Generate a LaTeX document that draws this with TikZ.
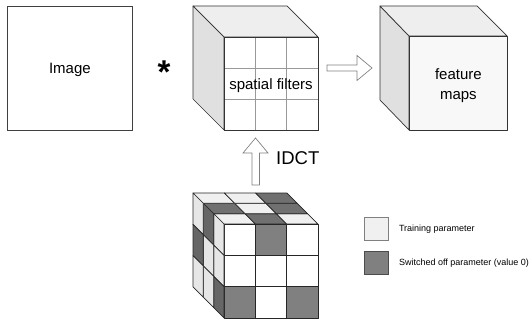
\documentclass[tikz,border=0pt]{standalone}
\usepackage{fontspec}
\setmainfont{Liberation Sans}
\definecolor{topL}{HTML}{F0F0F0}
\definecolor{topD}{HTML}{707070}
\definecolor{sideL}{HTML}{E6E6E6}
\definecolor{sideD}{HTML}{666666}
\definecolor{frontD}{HTML}{808080}
\definecolor{cubetop}{HTML}{EEEEEE}
\definecolor{cubeside}{HTML}{E0E0E0}
\definecolor{fmfront}{HTML}{F8F8F8}
\definecolor{edge}{HTML}{333333}
\begin{document}
\begin{tikzpicture}[x=1pt,y=-1pt,
  cubeline/.style={draw=edge, line width=0.7pt, line join=round},
  cell/.style={draw=black!85, line width=0.7pt, line join=round},
  hollow/.style={draw=black!50, fill=white, line width=0.7pt, line join=miter},
  lbl/.style={font=\fontsize{15}{20}\selectfont, align=center},
  legbox/.style={draw=black!50, line width=0.8pt, minimum width=24pt, minimum height=23pt, inner sep=0pt, anchor=north west},
  legtxt/.style={font=\fontsize{9}{11}\selectfont, anchor=west, inner sep=0pt}]
\useasboundingbox (0,0) rectangle (531,320);

% Image box
\node[draw=black!75, line width=0.8pt, fill=white, minimum width=125pt, minimum height=124pt, inner sep=0pt, anchor=north west] (img) at (7,6) {};
\node[lbl] (imgtxt) at ([yshift=-2pt]img.center) {Image};

% star
\node[font=\fontsize{33}{33}\selectfont\bfseries, inner sep=0pt] (star) at (164,72.5) {*};

% spatial filters cube
\filldraw[cubeline, fill=cubeside] (193,6) -- (224,37) -- (224,130) -- (193,99) -- cycle;
\filldraw[cubeline, fill=cubetop] (193,6) -- (287,6) -- (318,37) -- (224,37) -- cycle;
\node[cubeline, fill=white, minimum width=94pt, minimum height=93pt, inner sep=0pt, anchor=north west] (sf) at (224,37) {};
\draw[black!40, line width=0.6pt] (255.3,37) -- (255.3,130) (286.7,37) -- (286.7,130) (224,68) -- (318,68) (224,99) -- (318,99);
\draw[cubeline] (224,37) rectangle (318,130);
\node[lbl] (sftxt) at (271,86) {spatial filters};

% feature maps cube
\filldraw[cubeline, fill=cubeside] (380,6) -- (409,36) -- (409,130) -- (380,100) -- cycle;
\filldraw[cubeline, fill=cubetop] (380,6) -- (477,6) -- (507,36) -- (409,36) -- cycle;
\node[cubeline, fill=fmfront, minimum width=98pt, minimum height=94pt, inner sep=0pt, anchor=north west] (fm) at (409,36) {};
\node[lbl] (fmtxt) at ([yshift=-2.5pt]fm.center) {feature\\maps};

% hollow arrow right
\draw[hollow] (327,65) -- (357,65) -- (357,55.5) -- (372,68) -- (357,80.5) -- (357,71) -- (327,71) -- cycle;

% hollow arrow up
\draw[hollow] (252,185) -- (252,153) -- (243,153) -- (255.5,138) -- (268,153) -- (259.5,153) -- (259.5,185) -- cycle;
\node[font=\fontsize{18.5}{20}\selectfont, anchor=west, inner sep=0pt] (idct) at (276,158) {IDCT};

% bottom cube
\def\s{31.33}
\def\d{10.33}
% front face: col/row/colour (row 0 = top)
\foreach \c/\r/\col in {0/0/white,1/0/frontD,2/0/white,0/1/white,1/1/white,2/1/white,0/2/frontD,1/2/white,2/2/frontD}{
  \filldraw[cell, fill=\col] ({224+\c*\s},{224+\r*\s}) rectangle ++(\s,\s);
}
% top face: col/depth/colour (depth 0 = front)
\foreach \c/\r/\col in {0/0/topL,1/0/topD,2/0/topL,0/1/topD,1/1/topL,2/1/topD,0/2/topL,1/2/topL,2/2/topD}{
  \filldraw[cell, fill=\col] ({224+\c*\s-\r*\d},{224-\r*\d}) -- ++(\s,0) -- ++(-\d,-\d) -- ++(-\s,0) -- cycle;
}
% left face: depth/row/colour
\foreach \k/\j/\col in {0/0/sideL,0/1/sideL,0/2/sideD,1/0/sideD,1/1/sideL,1/2/sideL,2/0/sideL,2/1/sideD,2/2/sideL}{
  \filldraw[cell, fill=\col] ({224-\k*\d},{224+\j*\s-\k*\d}) -- ++(0,\s) -- ++(-\d,-\d) -- ++(0,-\s) -- cycle;
}

% legend
\node[legbox, fill=topL] (legL) at (364,217) {};
\node[legbox, draw=black!70, fill=frontD] (legD) at (364,251) {};
\node[legtxt] (legLt) at ([xshift=10pt]legL.east) {Training parameter};
\node[legtxt] (legDt) at ([xshift=10pt]legD.east) {Switched off parameter (value 0)};
\end{tikzpicture}
\end{document}
